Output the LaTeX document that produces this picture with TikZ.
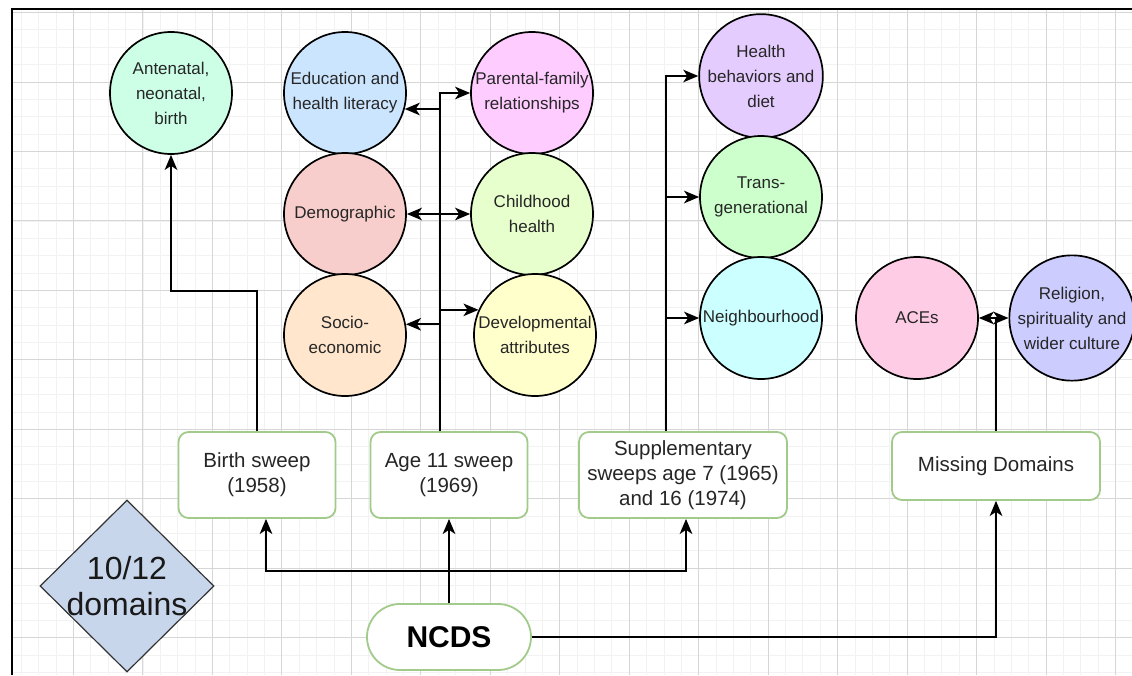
\documentclass[tikz,border=0pt]{standalone}
\usepackage{fontspec}
\setmainfont{Liberation Sans}
\usepackage{tikz}
\usetikzlibrary{calc}
\usetikzlibrary{shapes}
\usetikzlibrary{arrows.meta}

\definecolor{antenatalfill}{HTML}{CCFFE6}
\definecolor{educfill}{HTML}{CCE5FF}
\definecolor{demofill}{HTML}{F8CECC}
\definecolor{sociofill}{HTML}{FFE6CC}
\definecolor{parentalfill}{HTML}{FFCCFF}
\definecolor{childfill}{HTML}{E6FFCC}
\definecolor{devfill}{HTML}{FFFFCC}
\definecolor{healthfill}{HTML}{E5CCFF}
\definecolor{transfill}{HTML}{CCFFCC}
\definecolor{neighfill}{HTML}{CCFFFF}
\definecolor{acesfill}{HTML}{FFCCE6}
\definecolor{religionfill}{HTML}{CCCCFF}
\definecolor{scorefill}{HTML}{C8D6EC}
\definecolor{sweepgreen}{HTML}{A2CB8B}

\begin{document}
\begin{tikzpicture}[x = 1pt, y = -1pt]
	\tikzset{dtip/.tip = {Stealth[length = 15pt, width = 12.5pt, inset = 4pt]}}
	\tikzset{topic/.style = {circle, draw, line width = 1.7pt, minimum size = 122pt, inner sep = 0pt, align = center, text = black!85, font = \fontsize{17}{25}\selectfont}}
	\tikzset{sweep/.style = {rectangle, rounded corners = 10pt, draw = sweepgreen, line width = 1.8pt, fill = white, align = center, text = black!85, font = \fontsize{20.5}{25}\selectfont}}
	\tikzset{link/.style = {line width = 2pt, -dtip}}
	\tikzset{minorgrid/.style = {black!5, line width = 0.8pt}}
	\tikzset{majorgrid/.style = {black!16, line width = 0.9pt}}

%% Canvas
\useasboundingbox (0,0) rectangle (1132,675);
\fill[white] (0,0) rectangle (1132,675);
\begin{scope}
	\clip (12,9) rectangle (1132,675);
	\foreach \i in {0,...,64} \draw[minorgrid] ({4+17.367*\i},9) -- ({4+17.367*\i},675);
	\foreach \j in {0,...,38} \draw[minorgrid] (12,{12.5+17.367*\j}) -- (1132,{12.5+17.367*\j});
	\foreach \i in {0,...,16} \draw[majorgrid] ({4+69.47*\i},9) -- ({4+69.47*\i},675);
	\foreach \j in {0,...,9} \draw[majorgrid] (12,{12.5+69.47*\j}) -- (1132,{12.5+69.47*\j});
\end{scope}
\draw[line width = 2.5pt] (12,675) -- (12,9) -- (1132,9);

%% Topic circles
\draw (171,93) node[topic, name = antenatal, fill = antenatalfill]{Antenatal,\\ neonatal,\\ birth};

\draw (345,93) node[topic, name = educ, fill = educfill]{Education and\\ health literacy};
\draw (345,214) node[topic, name = demo, fill = demofill]{Demographic};
\draw (345,335) node[topic, name = socio, fill = sociofill]{Socio-\\ economic};

\draw (532,93) node[topic, name = parental, fill = parentalfill]{Parental-family\\ relationships};
\draw (532,214) node[topic, name = child, fill = childfill]{Childhood\\ health};
\draw (535,335) node[topic, name = dev, fill = devfill]{Developmental\\ attributes};

\draw (761,76) node[topic, name = health, fill = healthfill]{Health\\ behaviors and\\ diet};
\draw (761,197) node[topic, name = trans, fill = transfill]{Trans-\\ generational};
\draw (761,318) node[topic, name = neigh, fill = neighfill]{Neighbourhood};

\draw (917,318) node[topic, name = aces, fill = acesfill]{ACEs};
\draw (1072,318) node[topic, name = religion, fill = religionfill]{Religion,\\ spirituality and\\ wider culture};

%% Sweeps
\draw (257,475) node[sweep, name = birth, minimum width = 157pt, minimum height = 86pt]{Birth sweep\\ (1958)};
\draw (449,475) node[sweep, name = age11, minimum width = 157pt, minimum height = 86pt]{Age 11 sweep\\ (1969)};
\draw (683,475) node[sweep, name = supp, minimum width = 208pt, minimum height = 86pt]{Supplementary\\ sweeps age 7 (1965)\\ and 16 (1974)};
\draw (996,466) node[sweep, name = missing, minimum width = 208pt, minimum height = 68pt]{Missing Domains};

%% NCDS and score
\draw (449,637) node[sweep, name = ncds, rounded corners = 33pt, minimum width = 164pt, minimum height = 66pt, text = black, font = \fontsize{30}{34}\selectfont\bfseries]{NCDS};
\draw (127,586) node[name = score, diamond, draw = black!80, line width = 1.2pt, fill = scorefill, minimum width = 174pt, minimum height = 172pt, inner sep = 0pt]{};
\draw (score.center) node[name = scorelabel, align = center, text = black!90, font = \fontsize{32}{36}\selectfont]{10/12\\ domains};

%% Edges
\coordinate (trunkA) at ([xshift = -9pt]age11.north);
\coordinate (trunkB) at ([xshift = -17pt]supp.north);
\coordinate (bus) at (ncds.north |- 0,571);

\draw[link] (birth.north) -- ++(0,-140) -| (antenatal.south);

\draw[link] (trunkA) |- (parental.west);
\draw[link] (trunkA) |- (educ.-15);
\draw[line width = 2pt, dtip-dtip] (demo.east) -- (child.west);
\draw[link] (trunkA) |- (dev.156);
\draw[link] (trunkA) |- (socio.10);

\draw[link] (trunkB) |- (health.west);
\draw[link] (trunkB) |- (trans.west);
\draw[link] (trunkB) |- (neigh.west);

\draw[link] (missing.north) |- (aces.east);
\draw[link] (missing.north) |- (religion.west);

\draw[link] (ncds.north) -- (age11.south);
\draw[link] (bus) -| ([xshift = 9pt]birth.south);
\draw[link] (bus) -| ([xshift = 3pt]supp.south);
\draw[link] (ncds.east) -| (missing.south);
\end{tikzpicture}
\end{document}
